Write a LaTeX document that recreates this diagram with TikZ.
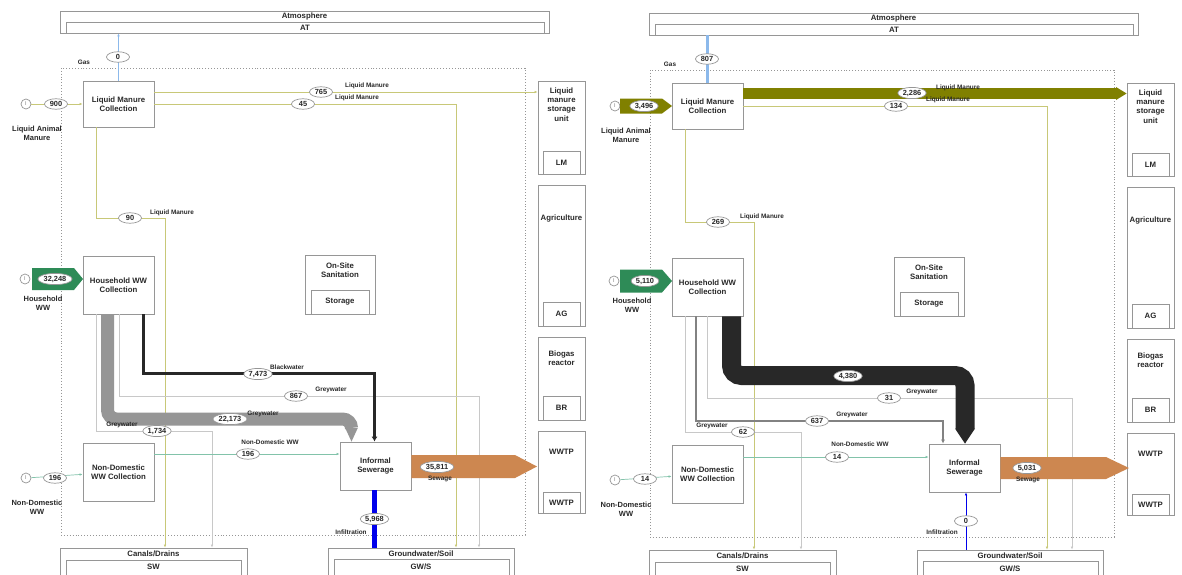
\documentclass[tikz,border=0pt]{standalone}
\usepackage{fontspec}
\setmainfont{Liberation Sans}
\usetikzlibrary{arrows.meta,shapes.geometric,calc}
\definecolor{bx}{RGB}{150,150,150}
\definecolor{olvthin}{RGB}{200,200,120}
\definecolor{olvband}{RGB}{128,128,0}
\definecolor{grn}{RGB}{46,139,87}
\definecolor{grnthin}{RGB}{130,195,170}
\definecolor{gryband}{RGB}{150,150,150}
\definecolor{grymid}{RGB}{130,130,130}
\definecolor{grythin}{RGB}{200,200,200}
\definecolor{blk}{RGB}{40,40,40}
\definecolor{org}{RGB}{205,135,80}
\definecolor{blu}{RGB}{0,0,235}
\definecolor{ltblu}{RGB}{140,185,235}
\definecolor{txt}{RGB}{40,40,40}
\newcommand\bxfont{\fontsize{7.8}{9.3}\selectfont\bfseries}
\newcommand\ovfont{\fontsize{7.4}{7.4}\selectfont\bfseries}
\newcommand\lbfont{\fontsize{7.5}{9}\selectfont\bfseries}
\newcommand\flfont{\fontsize{6.4}{6.4}\selectfont\bfseries}
\newcommand\panelbase{%
\node[draw=bx, dotted, line width=0.9pt, minimum width=464pt, minimum height=467pt, inner sep=0pt] (bnd) at (293,301.5) {};
\node[sbox, minimum width=489pt, minimum height=22pt] (atm) at (304.5,22) {};
\node[slab, font=\bxfont] (atmt) at (304.5,16.5) {Atmosphere};
\node[sbox, minimum width=478pt, minimum height=11pt] (atmin) at (305,27.5) {AT};
\node[sbox, minimum width=71pt, minimum height=46pt] (lmc) at (118.5,104) {Liquid Manure\\Collection};
\node[sbox, minimum width=71pt, minimum height=58pt] (hhc) at (118.5,285) {Household WW\\Collection};
\node[sbox, minimum width=71pt, minimum height=58pt] (ndc) at (118.5,472) {Non-Domestic\\WW Collection};
\node[sbox, minimum width=71pt, minimum height=48pt] (is) at (375.5,466) {Informal\\Sewerage};
\node[sbox, minimum width=70pt, minimum height=59pt] (oss) at (340,284.5) {};
\node[slab, font=\bxfont] (osst) at (340,270.5) {On-Site\\Sanitation};
\node[sbox, minimum width=58pt, minimum height=24pt] (ossin) at (340,302) {Storage};
\node[sbox, minimum width=47pt, minimum height=93pt] (lmu) at (561.5,127.5) {};
\node[slab, font=\bxfont, text depth=0pt] (lmut) at (561.5,104.5) {Liquid\\manure\\storage\\unit};
\node[sbox, minimum width=37pt, minimum height=23pt] (lmuin) at (561.5,162.5) {LM};
\node[sbox, minimum width=47pt, minimum height=141pt] (ag) at (561.5,255.5) {};
\node[slab, font=\bxfont] (agt) at (561.5,218) {Agriculture};
\node[sbox, minimum width=37pt, minimum height=24pt] (agin) at (561.5,314) {AG};
\node[sbox, minimum width=47pt, minimum height=83pt] (br) at (561.5,378.5) {};
\node[slab, font=\bxfont] (brt) at (561.5,358.5) {Biogas\\reactor};
\node[sbox, minimum width=37pt, minimum height=24pt] (brin) at (561.5,408) {BR};
\node[sbox, minimum width=47pt, minimum height=82pt] (wwtp) at (561.5,472) {};
\node[slab, font=\bxfont] (wwtpt) at (561.5,452) {WWTP};
\node[sbox, minimum width=37pt, minimum height=21pt] (wwtpin) at (561.5,502.5) {WWTP};
\node[sbox, minimum width=187pt, minimum height=32pt] (cd) at (153.5,564) {};
\node[slab, font=\bxfont] (cdt) at (153.5,554) {Canals/Drains};
\node[sbox, minimum width=175pt, minimum height=20pt] (cdin) at (153.5,570) {};
\node[slab, font=\bxfont] (cdint) at (153.5,566.5) {SW};
\node[sbox, minimum width=186pt, minimum height=32pt] (gws) at (421,564) {};
\node[slab, font=\bxfont] (gwst) at (421,554) {Groundwater/Soil};
\node[sbox, minimum width=175pt, minimum height=21pt] (gwsin) at (421.5,569.5) {};
\node[slab, font=\bxfont] (gwsint) at (421,566.5) {GW/S};
\node[sinc] (inLM) at (26,104) {I};
\node[sinc] (inHH) at (25,279) {I};
\node[sinc] (inND) at (26,478) {I};
\node[slab] (inLMt) at (37,133) {Liquid Animal\\Manure};
\node[slab] (inHHt) at (43,303) {Household\\WW};
\node[slab] (inNDt) at (37,507.5) {Non-Domestic\\WW};
}
\begin{document}
\begin{tikzpicture}[x=1pt,y=-1pt,
 sbox/.style={draw=bx, line width=0.8pt, fill=white, inner sep=0pt, font=\bxfont, text=txt, align=center},
 sov/.style={ellipse, draw=bx, line width=0.7pt, fill=white, inner sep=0.8pt, minimum height=10.5pt, minimum width=23pt, font=\ovfont, text=txt},
 slab/.style={font=\lbfont, text=txt, inner sep=0pt, align=center},
 sflab/.style={font=\flfont, text=txt, inner sep=0pt},
 sinc/.style={circle, draw=bx, line width=0.7pt, fill=white, minimum size=10pt, inner sep=0pt, font=\fontsize{5.5}{5.5}\selectfont, text=gray},
 sarw/.style={-{Latex[length=3pt,width=2.6pt]}},
 thn/.style={line width=0.7pt},
]
\useasboundingbox (0,0) rectangle (1182,574);
\clip (0,0) rectangle (1182,574);
\fill[white] (0,0) rectangle (1182,574);
% ================= LEFT PANEL =================
\begin{scope}
\panelbase
% liquid manure
\draw[olvthin, thn, sarw] (inLM) -- (lmc);
\draw[ltblu, thn, sarw] (lmc.north) -- (lmc.north |- atm.south);
\draw[olvthin, thn, sarw] (lmc.east |- 0,92) -- (lmu.west |- 0,92);
\draw[olvthin, thn, sarw] (lmc.east |- 0,104) -- (456,104) -- (gws.north -| 456,0);
\draw[olvthin, thn, sarw] (lmc.south -| 96,0) -- (96,218) -- (165,218) -- (cd.north -| 165,0);
% household
\fill[grn] (32,268) -- (74,268) -- (83,279) -- (74,290) -- (32,290) -- cycle;
\draw[grythin, thn, sarw] (hhc.south -| 96,0) -- (96,431) -- (212,431) -- (cd.north -| 212,0);
\draw[grythin, thn, sarw] (hhc.south -| 119,0) -- (119,396) -- (479,396) -- (gws.north -| 479,0);
\draw[gryband, line width=13pt, rounded corners=9pt] (hhc.south -| 107.5,0) -- (107.5,419) -- (351.5,419) -- (351.5,428);
\fill[gryband] (345,427.5) -- (358,427.5) -- (is.north -| 351.5,0) -- cycle;
\draw[blk, line width=3pt, -{Latex[length=5pt,width=6pt]}] (hhc.south -| 143,0) -- (143,373) -- (374.5,373) -- (is.north -| 374.5,0);
% non-domestic
\draw[grnthin, thn, sarw] (inND) -- (ndc);
\draw[grnthin, thn, sarw] (ndc.east |- 0,454) -- (is.west |- 0,454);
% sewage and infiltration
\fill[org] (is.east |- 0,455) -- (515,455) -- (537,466.5) -- (515,478) -- (is.east |- 0,478) -- cycle;
\draw[blu, line width=4.5pt] (gws.north -| 374.5,0) -- (is.south -| 374.5,0);
% values and labels
\node[sov] (o-gas) at (118,57) {0};
\node[sflab] (l-gas) at (84,62) {Gas};
\node[sov] (o-lam) at (56,104) {900};
\node[sov] (o-lm1) at (321,92) {765};
\node[sflab] (l-lm1) at (367,86) {Liquid Manure};
\node[sov] (o-lm2) at (303,104) {45};
\node[sflab] (l-lm2) at (357,98) {Liquid Manure};
\node[sov] (o-lm3) at (130,218) {90};
\node[sflab] (l-lm3) at (172,213) {Liquid Manure};
\node[sov] (o-hh) at (55,279) {32,248};
\node[sov] (o-bw) at (258,374) {7,473};
\node[sflab] (l-bw) at (287,367.5) {Blackwater};
\node[sov] (o-gw1) at (296,396) {867};
\node[sflab] (l-gw1) at (331,390) {Greywater};
\node[sov] (o-gw2) at (230,419) {22,173};
\node[sflab] (l-gw2) at (263,414) {Greywater};
\node[sov] (o-gw3) at (157,431) {1,734};
\node[sflab] (l-gw3) at (122,424.5) {Greywater};
\node[sov] (o-nd) at (55,478) {196};
\node[sov] (o-ndf) at (248,454) {196};
\node[sflab] (l-ndf) at (270,442) {Non-Domestic WW};
\node[sov] (o-sw) at (437,467) {35,811};
\node[sflab] (l-sw) at (440,479) {Sewage};
\node[sov] (o-inf) at (374.5,519) {5,968};
\node[sflab] (l-inf) at (351,532) {Infiltration};
\end{scope}
% ================= RIGHT PANEL =================
\begin{scope}[xshift=589pt, yshift=-2pt, name prefix=R-]
\panelbase
\draw[ltblu, line width=3pt] (lmc.north) -- (lmc.north |- atm.south);
\fill[olvband] (31,96.5) -- (73,96.5) -- (83,104) -- (73,111.5) -- (31,111.5) -- cycle;
\draw[olvband, line width=11pt] (lmc.east |- 0,91.5) -- (527,91.5);
\fill[olvband] (527,85) -- (lmu.west |- 0,91.5) -- (527,98) -- cycle;
\draw[olvthin, thn, sarw] (lmc.east |- 0,104) -- (458,104) -- (gws.north -| 458,0);
\draw[olvthin, thn, sarw] (lmc.south -| 96,0) -- (96,220) -- (165,220) -- (cd.north -| 165,0);
\fill[grn] (31,267.5) -- (73,267.5) -- (83,279) -- (73,290.5) -- (31,290.5) -- cycle;
\draw[grythin, thn, sarw] (hhc.south -| 96,0) -- (96,430) -- (212,430) -- (cd.north -| 212,0);
\draw[grymid, line width=1.8pt, -{Latex[length=4pt,width=4pt]}] (hhc.south -| 107,0) -- (107,419) -- (354,419) -- (is.north -| 354,0);
\draw[grythin, thn, sarw] (hhc.south -| 118,0) -- (118,396) -- (483,396) -- (gws.north -| 483,0);
\draw[blk, line width=19pt, rounded corners=10pt] (hhc.south -| 142.5,0) -- (142.5,373.5) -- (376,373.5) -- (376,427);
\fill[blk] (366,426.5) -- (386,426.5) -- (is.north -| 376,0) -- cycle;
\draw[grnthin, thn, sarw] (inND) -- (ndc);
\draw[grnthin, thn, sarw] (ndc.east |- 0,455) -- (is.west |- 0,455);
\fill[org] (is.east |- 0,455) -- (517,455) -- (540,466) -- (517,477) -- (is.east |- 0,477) -- cycle;
\draw[blu, thn, sarw] (gws.north -| 377,0) -- (is.south -| 377,0);
\node[sov] (o-gas) at (118,57) {807};
\node[sflab] (l-gas) at (81,62) {Gas};
\node[sov] (o-lam) at (55,104) {3,496};
\node[sov] (o-lm1) at (323,91) {2,286};
\node[sflab] (l-lm1) at (369,86) {Liquid Manure};
\node[sov] (o-lm2) at (307,104) {134};
\node[sflab] (l-lm2) at (359,98) {Liquid Manure};
\node[sov] (o-lm3) at (129,220) {269};
\node[sflab] (l-lm3) at (173,215) {Liquid Manure};
\node[sov] (o-hh) at (56,279) {5,110};
\node[sov] (o-bw) at (259,374) {4,380};
\node[sflab] (l-bw) at (288,367) {Blackwater};
\node[sov] (o-gw1) at (300,396) {31};
\node[sflab] (l-gw1) at (333,390) {Greywater};
\node[sov] (o-gw2) at (228,419) {637};
\node[sflab] (l-gw2) at (263,413) {Greywater};
\node[sov] (o-gw3) at (154,430) {62};
\node[sflab] (l-gw3) at (123,424) {Greywater};
\node[sov] (o-nd) at (56,477) {14};
\node[sov] (o-ndf) at (248,455) {14};
\node[sflab] (l-ndf) at (271,442) {Non-Domestic WW};
\node[sov] (o-sw) at (438,466) {5,031};
\node[sflab] (l-sw) at (439,478) {Sewage};
\node[sov] (o-inf) at (377,519) {0};
\node[sflab] (l-inf) at (353,530) {Infiltration};
\end{scope}
\end{tikzpicture}
\end{document}
